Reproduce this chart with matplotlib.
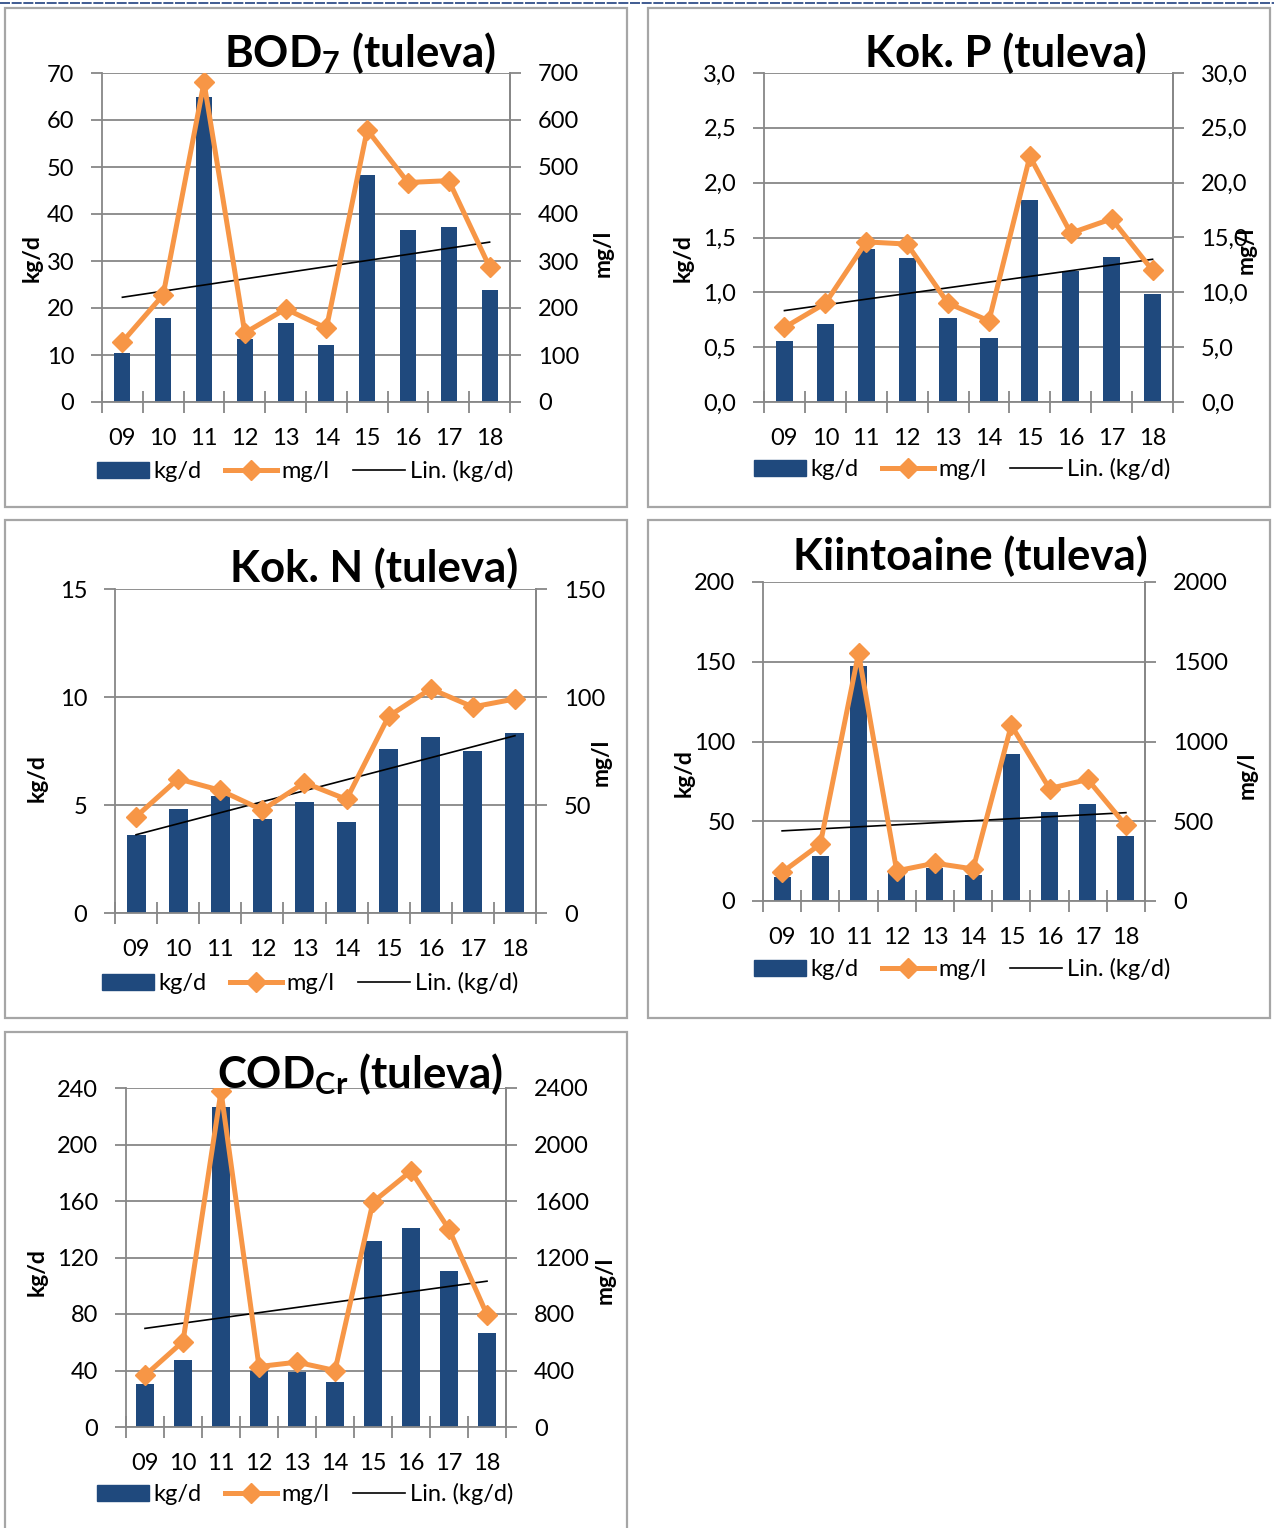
import matplotlib
matplotlib.use("Agg")
import matplotlib.pyplot as plt
import numpy as np
from matplotlib.patches import Rectangle, Patch
from matplotlib.lines import Line2D

plt.rcParams['font.family'] = ['Lato', 'DejaVu Sans']
plt.rcParams['mathtext.fontset'] = 'custom'
plt.rcParams['mathtext.rm'] = 'Lato'
plt.rcParams['mathtext.bf'] = 'Lato:bold'
plt.rcParams['mathtext.it'] = 'Lato:italic'

# ---- data -------------------------------------------------------------
years = ['09', '10', '11', '12', '13', '14', '15', '16', '17', '18']

bod_kgd = [10.4, 17.9, 64.9, 13.4, 16.8, 12.2, 48.2, 36.5, 37.3, 23.9]
bod_mgl = [128, 228, 680, 147, 198, 157, 579, 467, 471, 287]

p_kgd = [0.554, 0.707, 1.398, 1.316, 0.768, 0.585, 1.843, 1.194, 1.325, 0.984]
p_mgl = [6.8, 9.0, 14.6, 14.4, 9.0, 7.4, 22.4, 15.4, 16.7, 12.0]

n_kgd = [3.60, 4.83, 5.41, 4.34, 5.14, 4.23, 7.61, 8.14, 7.52, 8.34]
n_mgl = [44.6, 62.1, 56.8, 47.7, 60.3, 52.6, 91.1, 103.8, 95.4, 99.1]

ss_kgd = [15.3, 28.5, 147.5, 19.0, 21.0, 16.4, 92.0, 55.6, 61.0, 40.5]
ss_mgl = [180, 357, 1553, 189, 237, 201, 1102, 705, 762, 474]

cod_kgd = [30.1, 47.5, 226.4, 40.0, 38.8, 32.2, 131.8, 141.2, 110.6, 66.6]
cod_mgl = [365, 605, 2376, 428, 459, 400, 1593, 1812, 1400, 795]

bod_left = [0, 10, 20, 30, 40, 50, 60, 70]
bod_right = [0, 100, 200, 300, 400, 500, 600, 700]
p_left = [0, 0.5, 1.0, 1.5, 2.0, 2.5, 3.0]
p_left_lbl = ['0,0', '0,5', '1,0', '1,5', '2,0', '2,5', '3,0']
p_right = [0, 5, 10, 15, 20, 25, 30]
p_right_lbl = ['0,0', '5,0', '10,0', '15,0', '20,0', '25,0', '30,0']
n_left = [0, 5, 10, 15]
n_right = [0, 50, 100, 150]
ss_left = [0, 50, 100, 150, 200]
ss_right = [0, 500, 1000, 1500, 2000]
cod_left = [0, 40, 80, 120, 160, 200, 240]
cod_right = [0, 400, 800, 1200, 1600, 2000, 2400]

# ---- style ------------------------------------------------------------
W, H = 1274, 1528
BAR = '#1F497D'
ORANGE = '#F79646'
GRID = '#878787'
BOX = '#A6A6A6'
FS = 17
TFS = 31.5

fig = plt.figure(figsize=(W / 100, H / 100), dpi=100)


def rect(l, t, r, b):
    return [l / W, 1 - b / H, (r - l) / W, (b - t) / H]


def fx(x):
    return x / W


def fy(y):
    return 1 - y / H


def panel(box, area, title, title_xy, kgd, mgl, lt, ltl, rt, rtl,
          ylab_l, ylab_r, legend_xy, barw=0.43):
    # outer frame of the chart object
    bl, bt, br, bb = box
    fig.patches.append(Rectangle((fx(bl), fy(bb)), fx(br - bl), (bb - bt) / H,
                                 transform=fig.transFigure, fill=False,
                                 edgecolor=BOX, lw=1.6, zorder=0))
    ax = fig.add_axes(rect(*area))
    x = np.arange(len(years)) + 0.5
    ax.bar(x, kgd, width=barw, color=BAR, zorder=2)
    coef = np.polyfit(np.arange(len(kgd)), kgd, 1)
    trend = np.polyval(coef, np.arange(len(kgd)))
    ax.plot(x, trend, color='black', lw=1.2, zorder=3)
    ax.set_xlim(0, len(years))
    ax.set_ylim(lt[0], lt[-1])
    ax.set_yticks(lt)
    ax.set_yticklabels(ltl)
    ax.set_xticks(np.arange(len(years) + 1))
    ax.set_xticklabels([])
    ax.set_xticks(x, minor=True)
    ax.set_xticklabels(years, minor=True)
    ax.tick_params(axis='x', which='major', direction='inout', length=16,
                   width=1.3, color=GRID)
    ax.tick_params(axis='x', which='minor', length=0, pad=19, labelsize=FS)
    ax.tick_params(axis='y', direction='out', length=8, width=1.3,
                   color=GRID, pad=12, labelsize=FS)
    ax.grid(axis='y', color=GRID, lw=1.3)
    ax.set_axisbelow(True)
    for s in ['left', 'right', 'bottom']:
        ax.spines[s].set_color(GRID)
        ax.spines[s].set_linewidth(1.3)
    ax.spines['top'].set_visible(False)

    ax2 = ax.twinx()
    ax2.plot(x, mgl, color=ORANGE, lw=3.6, marker='D', markersize=10,
             markerfacecolor=ORANGE, markeredgecolor=ORANGE, zorder=4)
    ax2.set_ylim(rt[0], rt[-1])
    ax2.set_yticks(rt)
    ax2.set_yticklabels(rtl)
    ax2.tick_params(axis='y', direction='out', length=8, width=1.3,
                    color=GRID, pad=12, labelsize=FS)
    for s in ['left', 'right', 'bottom', 'top']:
        ax2.spines[s].set_visible(False)
    ax2.spines['right'].set_visible(True)
    ax2.spines['right'].set_color(GRID)
    ax2.spines['right'].set_linewidth(1.3)

    # titles and axis names
    fig.text(fx(title_xy[0]), fy(title_xy[1]), title, ha='center',
             va='baseline', fontsize=TFS, fontweight='bold')
    fig.text(fx(ylab_l[0]), fy(ylab_l[1]), 'kg/d', rotation=90, ha='center',
             va='center', fontsize=16.5, fontweight='bold')
    fig.text(fx(ylab_r[0]), fy(ylab_r[1]), 'mg/l', rotation=90, ha='center',
             va='center', fontsize=16.5, fontweight='bold')

    handles = [Patch(facecolor=BAR, edgecolor=BAR),
               Line2D([], [], color=ORANGE, lw=3.6, marker='D', markersize=10),
               Line2D([], [], color='black', lw=1.2)]
    fig.legend(handles, ['kg/d', 'mg/l', 'Lin. (kg/d)'], loc='center',
               bbox_to_anchor=(fx(legend_xy[0]), fy(legend_xy[1])),
               ncol=3, frameon=False, fontsize=FS, handlelength=2.2,
               handleheight=0.7, handletextpad=0.2, columnspacing=1.0,
               borderpad=0)
    return ax, ax2


panel((5, 8, 627, 507), (102, 73, 510, 402),
      r'$\mathbf{BOD}_{\mathbf{7}}$' + ' (tuleva)', (360, 67),
      bod_kgd, bod_mgl, bod_left, [str(v) for v in bod_left],
      bod_right, [str(v) for v in bod_right],
      (32, 258), (603, 253), (305, 471), barw=0.39)

panel((648, 8, 1270, 507), (764, 73, 1173, 402),
      'Kok. P (tuleva)', (1006, 67),
      p_kgd, p_mgl, p_left, p_left_lbl, p_right, p_right_lbl,
      (683, 258), (1246, 250), (962, 469), barw=0.42)

panel((5, 520, 627, 1018), (115, 589, 536, 913),
      'Kok. N (tuleva)', (374, 582),
      n_kgd, n_mgl, n_left, [str(v) for v in n_left],
      n_right, [str(v) for v in n_right],
      (37, 778), (601, 762), (310, 983), barw=0.45)

panel((648, 520, 1270, 1018), (763, 582, 1145, 901),
      'Kiintoaine (tuleva)', (970, 570),
      ss_kgd, ss_mgl, ss_left, [str(v) for v in ss_left],
      ss_right, [str(v) for v in ss_right],
      (684, 773), (1247, 775), (962, 969), barw=0.44)

panel((5, 1032, 627, 1535), (126, 1088, 506, 1427),
      r'$\mathbf{COD}_{\mathbf{Cr}}$' + ' (tuleva)', (360, 1088),
      cod_kgd, cod_mgl, cod_left, [str(v) for v in cod_left],
      cod_right, [str(v) for v in cod_right],
      (37, 1272), (605, 1280), (305, 1494), barw=0.45)

# thin page rule along the top edge
fig.add_artist(Line2D([0, 1], [fy(2.5), fy(2.5)], transform=fig.transFigure,
                      color='#1F3F7F', lw=1.2, ls=(0, (6, 1))))

fig.savefig('out.png', dpi=100)
